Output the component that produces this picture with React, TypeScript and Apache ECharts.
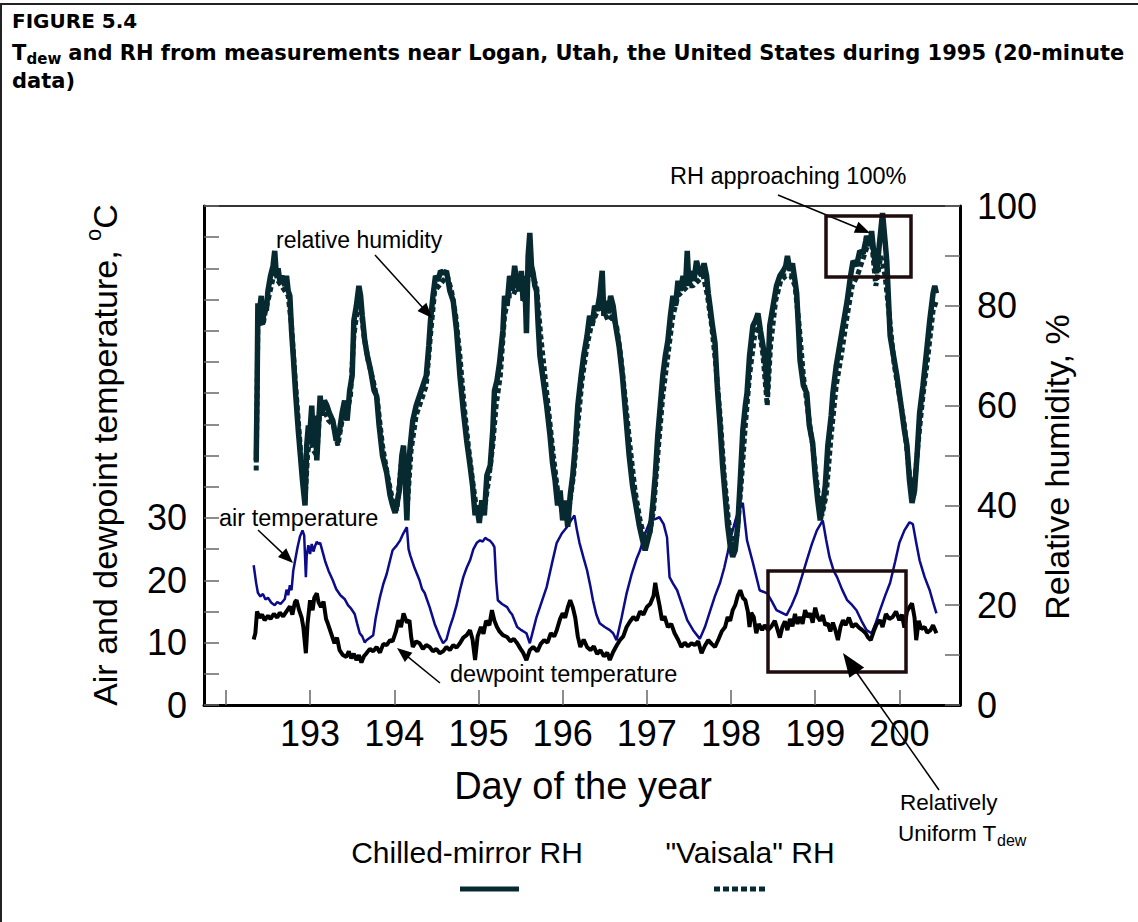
import React, { useEffect, useRef } from "react";
import * as echarts from "echarts";

// ---------- axis ticks / labels ----------
const dayTicks = [192, 193, 194, 195, 196, 197, 198, 199, 200];
const dayLabels = [193, 194, 195, 196, 197, 198, 199, 200];
const tempTicks = [0, 5, 10, 15, 20, 25, 30, 35, 40, 45, 50, 55, 60, 65, 70, 75, 80];
const tempLabels = [0, 10, 20, 30];
const rhTicks = [0, 10, 20, 30, 40, 50, 60, 70, 80, 90, 100];
const rhLabels = [0, 20, 40, 60, 80, 100];

// ---------- series values [day of year, value] ----------
const airTemperature: [number, number][] = [
  [192.33, 22.4], [192.36, 19.5], [192.38, 18.0], [192.41, 17.4], [192.44, 17.8], [192.47, 16.9], [192.50, 17.2],
  [192.54, 16.4], [192.58, 16.0], [192.61, 16.5], [192.65, 16.2], [192.70, 17.0], [192.72, 18.5], [192.74, 17.6],
  [192.76, 19.2], [192.78, 18.4], [192.80, 21.5], [192.82, 23.0], [192.85, 25.2], [192.88, 27.0], [192.91, 28.0],
  [192.93, 27.2], [192.95, 20.5], [192.96, 24.0], [192.98, 25.6], [193.00, 24.2], [193.02, 25.8], [193.04, 24.6],
  [193.06, 25.5], [193.08, 26.2], [193.10, 25.8], [193.12, 26.0], [193.15, 24.5], [193.18, 23.0], [193.22, 21.5],
  [193.27, 20.0], [193.31, 18.6], [193.36, 17.6], [193.41, 17.0], [193.45, 16.0], [193.49, 15.4], [193.53, 14.6],
  [193.56, 13.0], [193.59, 11.5], [193.62, 11.0], [193.65, 10.0], [193.67, 10.4], [193.71, 10.8], [193.75, 11.2],
  [193.78, 14.0], [193.83, 17.3], [193.87, 19.4], [193.91, 21.0], [193.95, 23.2], [193.98, 24.8], [194.03, 25.6],
  [194.07, 26.4], [194.10, 27.3], [194.15, 28.5], [194.17, 25.0], [194.19, 24.0], [194.24, 22.0], [194.30, 20.0],
  [194.33, 18.6], [194.36, 18.0], [194.42, 15.7], [194.48, 13.0], [194.54, 11.0], [194.58, 9.9], [194.62, 10.5],
  [194.66, 12.5], [194.70, 14.1], [194.74, 16.0], [194.78, 18.4], [194.82, 20.5], [194.86, 22.0], [194.90, 23.2],
  [194.94, 25.0], [194.98, 26.0], [195.02, 26.4], [195.05, 26.2], [195.08, 26.8], [195.11, 26.5], [195.14, 26.3],
  [195.17, 25.8], [195.19, 25.3], [195.21, 20.0], [195.23, 16.8], [195.28, 16.2], [195.34, 15.7], [195.37, 15.0],
  [195.40, 14.5], [195.46, 12.5], [195.51, 12.0], [195.57, 11.5], [195.61, 9.9], [195.65, 12.0], [195.69, 14.1],
  [195.75, 16.5], [195.81, 18.9], [195.87, 22.5], [195.93, 26.0], [195.99, 27.5], [196.05, 28.5], [196.10, 29.6],
  [196.14, 30.4], [196.17, 28.0], [196.20, 26.0], [196.25, 23.5], [196.29, 21.6], [196.33, 19.0], [196.36, 16.8],
  [196.40, 14.5], [196.44, 13.1], [196.50, 12.5], [196.56, 12.0], [196.60, 11.5], [196.64, 10.4], [196.70, 14.0],
  [196.76, 17.9], [196.82, 21.0], [196.88, 23.5], [196.92, 24.8], [196.98, 27.5], [197.04, 29.6], [197.10, 29.8],
  [197.15, 30.1], [197.20, 29.0], [197.24, 26.9], [197.27, 20.5], [197.31, 19.5], [197.36, 18.4], [197.42, 16.0],
  [197.48, 13.6], [197.55, 12.0], [197.63, 10.6], [197.69, 12.5], [197.75, 15.0], [197.81, 17.5], [197.87, 19.6],
  [197.92, 22.0], [197.96, 24.4], [198.00, 27.0], [198.05, 29.5], [198.09, 31.2], [198.14, 32.4], [198.19, 26.4],
  [198.26, 22.8], [198.34, 18.4], [198.43, 17.9], [198.49, 16.5], [198.54, 15.2], [198.60, 14.8], [198.66, 14.4],
  [198.72, 16.0], [198.78, 17.9], [198.84, 20.5], [198.90, 23.2], [198.96, 25.8], [199.02, 28.0], [199.09, 29.6],
  [199.13, 26.5], [199.17, 23.7], [199.22, 21.5], [199.26, 20.5], [199.32, 18.5], [199.38, 16.8], [199.44, 16.0],
  [199.49, 15.2], [199.55, 13.5], [199.61, 12.0], [199.67, 11.5], [199.72, 13.2], [199.77, 15.2], [199.83, 17.5],
  [199.89, 19.6], [199.95, 23.0], [200.00, 26.0], [200.06, 28.0], [200.12, 29.3], [200.16, 29.0], [200.20, 26.0],
  [200.24, 23.2], [200.30, 20.5], [200.36, 18.4], [200.40, 16.5], [200.44, 14.7],
];

const dewpointTemperature: [number, number][] = [
  [192.33, 10.5], [192.35, 11.5], [192.37, 15.0], [192.40, 14.0], [192.43, 14.5], [192.46, 13.6], [192.50, 14.3],
  [192.53, 13.8], [192.57, 14.6], [192.61, 14.0], [192.64, 14.8], [192.68, 14.2], [192.72, 15.0], [192.76, 15.8],
  [192.79, 14.5], [192.82, 16.5], [192.84, 16.8], [192.87, 15.2], [192.90, 14.0], [192.92, 12.5], [192.95, 8.3],
  [192.97, 13.0], [193.00, 16.8], [193.03, 15.2], [193.05, 17.2], [193.08, 17.9], [193.10, 16.5], [193.13, 15.7],
  [193.16, 16.6], [193.19, 13.8], [193.21, 13.1], [193.25, 11.5], [193.29, 9.9], [193.32, 10.8], [193.35, 8.8],
  [193.39, 8.0], [193.43, 7.7], [193.46, 8.6], [193.49, 7.5], [193.52, 8.2], [193.55, 7.2], [193.58, 8.0],
  [193.61, 6.8], [193.64, 7.8], [193.67, 8.3], [193.71, 9.0], [193.75, 8.6], [193.79, 9.3], [193.83, 8.4],
  [193.87, 9.8], [193.91, 9.6], [193.95, 10.4], [193.98, 10.2], [194.02, 11.8], [194.05, 13.6], [194.08, 12.5],
  [194.11, 14.7], [194.15, 13.2], [194.18, 13.6], [194.20, 11.0], [194.22, 9.3], [194.26, 10.2], [194.30, 9.9],
  [194.34, 9.0], [194.38, 9.6], [194.42, 9.3], [194.46, 8.6], [194.50, 9.0], [194.54, 8.3], [194.58, 8.6],
  [194.62, 9.3], [194.66, 8.8], [194.70, 9.6], [194.74, 9.2], [194.78, 9.9], [194.82, 10.8], [194.86, 11.2],
  [194.90, 12.0], [194.93, 10.5], [194.96, 7.2], [194.99, 11.0], [195.03, 12.5], [195.06, 11.4], [195.09, 13.5],
  [195.13, 12.8], [195.16, 15.2], [195.19, 13.5], [195.22, 12.5], [195.25, 11.8], [195.29, 11.2], [195.34, 10.9],
  [195.38, 10.2], [195.42, 10.6], [195.46, 9.9], [195.50, 9.0], [195.53, 8.4], [195.57, 7.2], [195.61, 8.8],
  [195.65, 9.3], [195.70, 8.6], [195.74, 9.8], [195.78, 10.4], [195.82, 10.0], [195.86, 11.5], [195.90, 11.0],
  [195.93, 12.0], [195.97, 13.8], [196.00, 14.7], [196.03, 14.0], [196.06, 15.6], [196.09, 16.8], [196.12, 15.7],
  [196.15, 14.0], [196.18, 11.0], [196.21, 9.3], [196.25, 10.5], [196.29, 9.3], [196.33, 8.8], [196.37, 9.4],
  [196.41, 8.2], [196.45, 8.8], [196.49, 7.8], [196.53, 8.4], [196.56, 7.2], [196.60, 8.5], [196.64, 9.5],
  [196.68, 10.4], [196.72, 11.0], [196.76, 12.5], [196.80, 13.4], [196.84, 14.1], [196.88, 13.6], [196.92, 15.0],
  [196.96, 14.5], [197.00, 15.7], [197.04, 16.2], [197.08, 17.5], [197.10, 19.6], [197.12, 18.0], [197.15, 16.0],
  [197.18, 13.6], [197.21, 14.2], [197.25, 12.5], [197.29, 13.0], [197.33, 11.5], [197.37, 10.5], [197.41, 9.3],
  [197.45, 10.0], [197.49, 9.4], [197.53, 9.9], [197.57, 9.6], [197.61, 10.2], [197.65, 8.3], [197.69, 9.5],
  [197.73, 10.4], [197.77, 9.8], [197.81, 9.3], [197.85, 10.5], [197.89, 11.8], [197.93, 12.5], [197.96, 14.1],
  [197.99, 13.5], [198.02, 15.2], [198.05, 16.0], [198.08, 17.5], [198.11, 18.4], [198.14, 17.2], [198.17, 16.8],
  [198.20, 15.0], [198.22, 12.5], [198.24, 14.8], [198.27, 14.1], [198.30, 11.5], [198.33, 13.0], [198.37, 12.0],
  [198.40, 12.8], [198.44, 12.0], [198.48, 12.6], [198.52, 13.5], [198.55, 12.2], [198.58, 10.8], [198.61, 12.5],
  [198.64, 13.4], [198.67, 12.0], [198.70, 13.8], [198.73, 12.6], [198.76, 14.6], [198.79, 13.0], [198.82, 14.1],
  [198.85, 13.0], [198.88, 15.2], [198.91, 14.1], [198.94, 14.7], [198.97, 13.2], [199.00, 15.6], [199.03, 14.1],
  [199.06, 13.5], [199.09, 14.4], [199.12, 12.8], [199.15, 13.1], [199.18, 11.8], [199.21, 13.2], [199.24, 12.0],
  [199.27, 10.4], [199.30, 12.5], [199.33, 13.6], [199.36, 12.8], [199.40, 14.0], [199.44, 12.5], [199.48, 13.0],
  [199.52, 12.4], [199.56, 12.0], [199.60, 11.5], [199.63, 10.8], [199.66, 10.4], [199.70, 12.0], [199.73, 13.0],
  [199.77, 13.6], [199.80, 12.5], [199.84, 14.6], [199.88, 13.8], [199.92, 14.1], [199.96, 15.0], [200.00, 13.6],
  [200.03, 14.5], [200.06, 12.4], [200.09, 15.0], [200.12, 15.7], [200.15, 16.3], [200.18, 14.0], [200.20, 10.4],
  [200.23, 13.5], [200.26, 12.2], [200.30, 12.5], [200.33, 11.6], [200.37, 12.0], [200.40, 12.8], [200.44, 11.5],
];

const chilledMirrorRH: [number, number][] = [
  [192.36, 49], [192.37, 62], [192.38, 80.5], [192.40, 79], [192.42, 82], [192.44, 77], [192.46, 80], [192.48, 79],
  [192.50, 83], [192.53, 86], [192.56, 88], [192.58, 91], [192.60, 86], [192.62, 87.5], [192.64, 85], [192.67, 86],
  [192.70, 84], [192.72, 86], [192.74, 83], [192.76, 82], [192.78, 75], [192.80, 70], [192.83, 62], [192.86, 55],
  [192.89, 49], [192.91, 45], [192.94, 40], [192.96, 52], [192.98, 56], [193.00, 55], [193.02, 60], [193.04, 52],
  [193.06, 58], [193.08, 49], [193.10, 56], [193.12, 62], [193.14, 58], [193.17, 61], [193.20, 60], [193.23, 58.5],
  [193.27, 57], [193.31, 53], [193.35, 55], [193.38, 58.5], [193.41, 61], [193.44, 57], [193.47, 63], [193.50, 66],
  [193.52, 77], [193.55, 80], [193.58, 84], [193.60, 82], [193.62, 78], [193.65, 73], [193.68, 70], [193.72, 67],
  [193.76, 63], [193.79, 62], [193.82, 56], [193.86, 50], [193.91, 46.5], [193.95, 42], [193.98, 40], [194.01, 38.5],
  [194.03, 40], [194.06, 43], [194.09, 50], [194.11, 52], [194.13, 45], [194.15, 37], [194.17, 48], [194.19, 52],
  [194.22, 57], [194.26, 60], [194.30, 62], [194.34, 64], [194.38, 66], [194.41, 72], [194.43, 77], [194.46, 82],
  [194.49, 86], [194.52, 85], [194.55, 87], [194.59, 86.5], [194.62, 87], [194.66, 83], [194.70, 81], [194.74, 75],
  [194.78, 66], [194.82, 59], [194.86, 53], [194.90, 48], [194.93, 44], [194.96, 38], [194.98, 40], [195.01, 36.5],
  [195.04, 41], [195.07, 38], [195.10, 46], [195.14, 48], [195.17, 55], [195.19, 63], [195.22, 65], [195.25, 68.5],
  [195.29, 75], [195.31, 82], [195.34, 80], [195.37, 86], [195.40, 83], [195.43, 88], [195.46, 84], [195.49, 83],
  [195.51, 87], [195.53, 81], [195.55, 86], [195.57, 74.5], [195.59, 90], [195.61, 94.6], [195.63, 88],
  [195.65, 86.5], [195.67, 84], [195.69, 83], [195.71, 76], [195.73, 70], [195.77, 65], [195.81, 60], [195.85, 54],
  [195.88, 48.5], [195.91, 45], [195.94, 40], [195.97, 43], [196.00, 37], [196.03, 41], [196.06, 35.7], [196.09, 42],
  [196.12, 46], [196.15, 52], [196.18, 60], [196.22, 66], [196.25, 70], [196.29, 74], [196.32, 78], [196.35, 76],
  [196.38, 80], [196.41, 79], [196.44, 82], [196.47, 87], [196.49, 78], [196.51, 81], [196.54, 78.5], [196.57, 82],
  [196.60, 80], [196.63, 76], [196.67, 72], [196.71, 66], [196.75, 58], [196.79, 50], [196.83, 44], [196.87, 40],
  [196.91, 36], [196.95, 33], [196.98, 31], [197.01, 33], [197.04, 35], [197.07, 40], [197.10, 46], [197.13, 54],
  [197.16, 60], [197.19, 66], [197.22, 70], [197.25, 73], [197.28, 78], [197.31, 82], [197.34, 80], [197.37, 85],
  [197.40, 83], [197.43, 86], [197.46, 84], [197.48, 91], [197.50, 84], [197.53, 87], [197.56, 85], [197.59, 89],
  [197.62, 87], [197.65, 86], [197.68, 88.5], [197.71, 86], [197.73, 82.5], [197.75, 80], [197.78, 76],
  [197.81, 72.5], [197.84, 63], [197.87, 56], [197.90, 48], [197.93, 42], [197.96, 36], [197.99, 32],
  [198.02, 29.7], [198.05, 31], [198.08, 36], [198.11, 45], [198.14, 55], [198.17, 60], [198.19, 62.5],
  [198.22, 70], [198.26, 76], [198.29, 77], [198.32, 78.5], [198.35, 75], [198.38, 72], [198.41, 68],
  [198.43, 62.5], [198.46, 76], [198.50, 80], [198.54, 84], [198.58, 86], [198.62, 87], [198.65, 88], [198.67, 90],
  [198.70, 87], [198.73, 88.5], [198.76, 85], [198.78, 82.5], [198.80, 76], [198.82, 69], [198.86, 64],
  [198.90, 62.5], [198.93, 56], [198.97, 52.5], [199.00, 46], [199.03, 41], [199.06, 37], [199.09, 40],
  [199.12, 44], [199.15, 52], [199.19, 58], [199.21, 62.5], [199.25, 68], [199.29, 72], [199.33, 76], [199.38, 81],
  [199.42, 86], [199.45, 89], [199.49, 88], [199.53, 91], [199.57, 90.5], [199.60, 93], [199.61, 94], [199.65, 92],
  [199.67, 95], [199.70, 90], [199.73, 86.5], [199.76, 92], [199.80, 98.6], [199.83, 93], [199.85, 89],
  [199.89, 74], [199.93, 70], [199.97, 66], [200.02, 60], [200.06, 55], [200.09, 52], [200.12, 45], [200.15, 40.5],
  [200.18, 43], [200.21, 50], [200.24, 58.5], [200.28, 64], [200.33, 72], [200.36, 77], [200.40, 82.5],
  [200.42, 84], [200.44, 82.5],
];

const vaisalaRH: [number, number][] = [
  [192.36, 47], [192.38, 76], [192.41, 78], [192.44, 76], [192.47, 79], [192.50, 81], [192.54, 84], [192.58, 87],
  [192.62, 85], [192.66, 84], [192.70, 83], [192.74, 82], [192.78, 76], [192.82, 66], [192.86, 57], [192.90, 48],
  [192.94, 41], [192.97, 50], [193.00, 54], [193.04, 51], [193.08, 50], [193.12, 60], [193.17, 59], [193.22, 57],
  [193.28, 56], [193.33, 52], [193.38, 57], [193.43, 58], [193.48, 62], [193.52, 74], [193.56, 79], [193.60, 80],
  [193.64, 74], [193.69, 69], [193.75, 65], [193.80, 61], [193.86, 52], [193.92, 46], [193.98, 41], [194.03, 39],
  [194.08, 48], [194.12, 50], [194.16, 41], [194.20, 51], [194.26, 58], [194.32, 61], [194.38, 64], [194.43, 74],
  [194.48, 83], [194.53, 84], [194.58, 85], [194.63, 86], [194.68, 83], [194.73, 78], [194.78, 70], [194.83, 60],
  [194.88, 52], [194.93, 45], [194.98, 39], [195.02, 38], [195.07, 39], [195.12, 45], [195.17, 52], [195.21, 60],
  [195.26, 66], [195.31, 78], [195.36, 82], [195.41, 82], [195.46, 84], [195.51, 84], [195.56, 80], [195.60, 88],
  [195.64, 86], [195.69, 84], [195.74, 74], [195.79, 66], [195.84, 58], [195.89, 50], [195.94, 43], [195.99, 39],
  [196.04, 38], [196.08, 40], [196.13, 46], [196.18, 56], [196.23, 65], [196.29, 72], [196.34, 76], [196.39, 78],
  [196.44, 80], [196.49, 79], [196.54, 77], [196.59, 78], [196.64, 76], [196.69, 70], [196.74, 62], [196.80, 52],
  [196.86, 43], [196.92, 37], [196.98, 33], [197.03, 34], [197.08, 39], [197.13, 50], [197.19, 62], [197.25, 70],
  [197.31, 78], [197.37, 82], [197.43, 83], [197.49, 84], [197.55, 84], [197.61, 85], [197.67, 86], [197.72, 82],
  [197.77, 76], [197.82, 68], [197.87, 58], [197.92, 46], [197.97, 37], [198.02, 32], [198.07, 34], [198.12, 44],
  [198.17, 56], [198.22, 66], [198.28, 74], [198.33, 76], [198.38, 70], [198.43, 60], [198.47, 72], [198.53, 81],
  [198.59, 85], [198.65, 86], [198.71, 86], [198.76, 84], [198.81, 76], [198.86, 66], [198.92, 58], [198.97, 52],
  [199.03, 43], [199.08, 38], [199.13, 42], [199.19, 54], [199.25, 64], [199.31, 70], [199.38, 78], [199.44, 84],
  [199.50, 86], [199.56, 89], [199.62, 92], [199.67, 93], [199.72, 84], [199.78, 90], [199.83, 86], [199.88, 78],
  [199.94, 68], [200.00, 62], [200.06, 56], [200.12, 46], [200.17, 42], [200.22, 52], [200.28, 62], [200.34, 70],
  [200.40, 79], [200.44, 81],
];

const SANS = "'Liberation Sans', Arial, Helvetica, sans-serif";
const TITLE_FONT = "'DejaVu Sans', 'Liberation Sans', sans-serif";
const RH_COLOR = "#072a31";
const AIR_COLOR = "#0b0b8c";
const BOX_COLOR = "#1f0d0d";

function arrow(x1: number, y1: number, x2: number, y2: number, headLen: number, headHalf: number, width: number) {
  const dx = x2 - x1;
  const dy = y2 - y1;
  const len = Math.hypot(dx, dy);
  const ux = dx / len;
  const uy = dy / len;
  const bx = x2 - ux * headLen;
  const by = y2 - uy * headLen;
  const px = -uy;
  const py = ux;
  return [
    { type: "line", z: 100, shape: { x1, y1, x2: bx + ux * 2, y2: by + uy * 2 }, style: { stroke: "#000", lineWidth: width } },
    {
      type: "polygon",
      z: 100,
      shape: { points: [[x2, y2], [bx + px * headHalf, by + py * headHalf], [bx - px * headHalf, by - py * headHalf]] },
      style: { fill: "#000" },
    },
  ];
}

function txt(x: number, y: number, text: string, fontSize: number, extra: any = {}) {
  return {
    type: "text",
    z: 100,
    x,
    y,
    style: {
      text,
      fontSize,
      fontFamily: SANS,
      fill: "#000",
      align: "left",
      verticalAlign: "middle",
      ...extra,
    },
  };
}

function boldTitle(x: number, y: number, text: string, fontSize: number) {
  return txt(x, y, text, fontSize, { fontWeight: "bold", fontFamily: TITLE_FONT });
}

export default function App() {
  const ref = useRef<HTMLDivElement>(null);

  useEffect(() => {
    document.body.style.margin = "0";
    if (!ref.current) return;
    const chart = echarts.init(ref.current, undefined, { renderer: "svg" });

    const graphics: any[] = [
      // outer frame (left & top)
      { type: "line", z: 100, shape: { x1: 1, y1: 3, x2: 1, y2: 922 }, style: { stroke: "#222", lineWidth: 2 } },
      { type: "line", z: 100, shape: { x1: 0, y1: 4, x2: 1138, y2: 4 }, style: { stroke: "#222", lineWidth: 2 } },
      // title
      boldTitle(12, 21, "FIGURE 5.4", 20),
      boldTitle(12, 53, "T", 21),
      boldTitle(26.5, 59, "dew", 15),
      boldTitle(61, 53, " and RH from measurements near Logan, Utah, the United States during 1995 (20-minute", 21),
      boldTitle(12, 81, "data)", 21),
      // axis names
      {
        type: "text", z: 100, x: 102, y: 455, rotation: Math.PI / 2,
        style: {
          text: "{m|Air and dewpoint temperature, }{p|o}{m|C}",
          align: "center",
          verticalAlign: "middle",
          fill: "#000",
          rich: {
            m: { fontSize: 34, fontFamily: SANS, lineHeight: 40, verticalAlign: "bottom", fill: "#000" },
            p: { fontSize: 22, fontFamily: SANS, lineHeight: 22, verticalAlign: "top", fill: "#000" },
          },
        },
      },
      {
        type: "text", z: 100, x: 1057, y: 467, rotation: Math.PI / 2,
        style: { text: "Relative humidity, %", fontSize: 34, fontFamily: SANS, fill: "#000", align: "center", verticalAlign: "middle" },
      },
      {
        type: "text", z: 100, x: 583, y: 786,
        style: { text: "Day of the year", fontSize: 38, fontFamily: SANS, fill: "#000", align: "center", verticalAlign: "middle" },
      },
      // annotations
      txt(276, 240, "relative humidity", 23),
      ...arrow(375, 255, 432, 318, 15, 6, 1.5),
      txt(670, 176, "RH approaching 100%", 23.5),
      ...arrow(778, 195, 870, 233, 15, 6, 1.5),
      txt(219, 518, "air temperature", 23.5),
      ...arrow(258, 530, 293, 563, 15, 6, 1.5),
      txt(450, 674, "dewpoint temperature", 23.5),
      ...arrow(440, 683, 397, 648, 15, 6, 1.5),
      {
        type: "rect", z: 100, shape: { x: 826, y: 216, width: 85, height: 61 },
        style: { fill: "none", stroke: BOX_COLOR, lineWidth: 3.5 },
      },
      {
        type: "rect", z: 100, shape: { x: 768, y: 571, width: 138, height: 101 },
        style: { fill: "none", stroke: BOX_COLOR, lineWidth: 3.5 },
      },
      ...arrow(939, 790, 843, 653, 24, 9, 1.5),
      txt(900, 802, "Relatively", 22.5),
      txt(898, 833, "Uniform T", 22.5),
      txt(997, 840, "dew", 16),
      // legend
      txt(467, 852, "Chilled-mirror RH", 30, { align: "center" }),
      txt(750, 852, "\"Vaisala\" RH", 30, { align: "center" }),
      { type: "line", z: 100, shape: { x1: 460, y1: 889, x2: 519, y2: 889 }, style: { stroke: RH_COLOR, lineWidth: 5 } },
      {
        type: "line", z: 100, shape: { x1: 714, y1: 889, x2: 766, y2: 889 },
        style: { stroke: RH_COLOR, lineWidth: 5, lineDash: [6, 3] },
      },
    ];

    const option: any = {
      animation: false,
      backgroundColor: "#ffffff",
      textStyle: { fontFamily: SANS },
      grid: {
        left: 204, right: 178, top: 206, bottom: 217,
        show: true, borderColor: "#333", borderWidth: 2, backgroundColor: "transparent",
        containLabel: false, outerBoundsMode: "none",
      },
      xAxis: {
        type: "value",
        min: 191.74,
        max: 200.72,
        axisLine: { show: true, onZero: false, lineStyle: { color: "#000", width: 3 } },
        axisTick: { show: true, inside: true, length: 15, customValues: dayTicks, lineStyle: { color: "#666", width: 1.5 } },
        axisLabel: { show: true, customValues: dayLabels, fontSize: 36, color: "#000", margin: 10, fontFamily: SANS },
        splitLine: { show: false },
      },
      yAxis: [
        {
          type: "value",
          min: 0,
          max: 80,
          position: "left",
          axisLine: { show: true, onZero: false, lineStyle: { color: "#000", width: 3 } },
          axisTick: { show: true, inside: true, length: 15, customValues: tempTicks, lineStyle: { color: "#666", width: 1.5 } },
          axisLabel: { show: true, customValues: tempLabels, fontSize: 36, color: "#000", margin: 17, fontFamily: SANS },
          splitLine: { show: false },
        },
        {
          type: "value",
          min: 0,
          max: 100,
          position: "right",
          axisLine: { show: true, onZero: false, lineStyle: { color: "#000", width: 3 } },
          axisTick: { show: true, inside: true, length: 15, customValues: rhTicks, lineStyle: { color: "#666", width: 1.5 } },
          axisLabel: { show: true, customValues: rhLabels, fontSize: 36, color: "#000", margin: 17, fontFamily: SANS },
          splitLine: { show: false },
        },
      ],
      series: [
        {
          type: "line", name: "Air temperature", yAxisIndex: 0, data: airTemperature,
          showSymbol: false, symbol: "none", lineStyle: { color: AIR_COLOR, width: 2.5 }, z: 2,
        },
        {
          type: "line", name: "Dewpoint temperature", yAxisIndex: 0, data: dewpointTemperature,
          showSymbol: false, symbol: "none", lineStyle: { color: "#000", width: 4 }, z: 3,
        },
        {
          type: "line", name: "Chilled-mirror RH", yAxisIndex: 1, data: chilledMirrorRH,
          showSymbol: false, symbol: "none", lineStyle: { color: RH_COLOR, width: 5.5 }, z: 4,
        },
        {
          type: "line", name: "\"Vaisala\" RH", yAxisIndex: 1, data: vaisalaRH,
          showSymbol: false, symbol: "none", lineStyle: { color: RH_COLOR, width: 5, type: [5, 3] }, z: 5,
        },
      ],
      graphic: { elements: graphics },
    };

    chart.setOption(option);
    return () => {
      chart.dispose();
    };
  }, []);

  return <div ref={ref} style={{ width: 1138, height: 922, background: "#fff" }} />;
}
